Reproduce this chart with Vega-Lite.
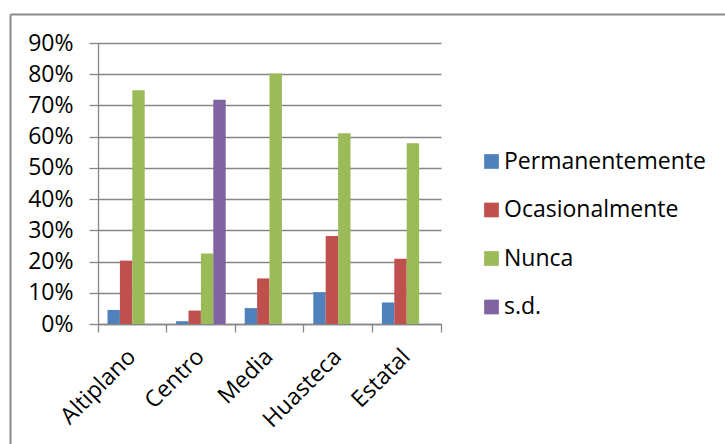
{
  "$schema": "https://vega.github.io/schema/vega-lite/v6.json",
  "width": 343,
  "height": 281,
  "autosize": {"type": "none"},
  "padding": {"left": 98, "top": 43, "right": 284, "bottom": 120},
  "background": "white",
  "config": {
    "view": {"stroke": null},
    "font": "Open Sans",
    "axis": {"labelFont": "Open Sans", "labelColor": "#000000", "title": null},
    "legend": {"labelFont": "Open Sans"}
  },
  "data": {
    "values": [
      {"region": "Altiplano", "serie": "Permanentemente", "valor": 0.045},
      {"region": "Altiplano", "serie": "Ocasionalmente", "valor": 0.203},
      {"region": "Altiplano", "serie": "Nunca", "valor": 0.749},
      {"region": "Centro", "serie": "Permanentemente", "valor": 0.009},
      {"region": "Centro", "serie": "Ocasionalmente", "valor": 0.043},
      {"region": "Centro", "serie": "Nunca", "valor": 0.226},
      {"region": "Centro", "serie": "s.d.", "valor": 0.718},
      {"region": "Media", "serie": "Permanentemente", "valor": 0.051},
      {"region": "Media", "serie": "Ocasionalmente", "valor": 0.146},
      {"region": "Media", "serie": "Nunca", "valor": 0.802},
      {"region": "Huasteca", "serie": "Permanentemente", "valor": 0.102},
      {"region": "Huasteca", "serie": "Ocasionalmente", "valor": 0.282},
      {"region": "Huasteca", "serie": "Nunca", "valor": 0.611},
      {"region": "Estatal", "serie": "Permanentemente", "valor": 0.069},
      {"region": "Estatal", "serie": "Ocasionalmente", "valor": 0.209},
      {"region": "Estatal", "serie": "Nunca", "valor": 0.579}
    ]
  },
  "layer": [
    {
      "mark": {"type": "bar"},
      "encoding": {
        "x": {
          "field": "region",
          "type": "nominal",
          "sort": ["Altiplano", "Centro", "Media", "Huasteca", "Estatal"],
          "scale": {"paddingInner": 0.277, "paddingOuter": 0.1385},
          "axis": {
            "orient": "bottom",
            "labelAngle": -45,
            "labelAlign": "right",
            "labelBaseline": "top",
            "labelFontSize": 23,
            "labelPadding": 21,
            "labelOffset": -8,
            "ticks": false,
            "tickSize": 0,
            "domainColor": "#868686",
            "domainWidth": 1.3,
            "grid": false
          }
        },
        "xOffset": {
          "field": "serie",
          "type": "nominal",
          "scale": {
            "domain": ["Permanentemente", "Ocasionalmente", "Nunca", "s.d."],
            "paddingInner": 0,
            "paddingOuter": 0
          }
        },
        "y": {
          "field": "valor",
          "type": "quantitative",
          "scale": {"domain": [0, 0.9]},
          "axis": {
            "orient": "left",
            "format": ".0%",
            "values": [0, 0.1, 0.2, 0.3, 0.4, 0.5, 0.6, 0.7, 0.8, 0.9],
            "grid": true,
            "gridColor": "#868686",
            "gridWidth": 1.3,
            "tickColor": "#868686",
            "tickWidth": 1.3,
            "tickSize": 9,
            "domainColor": "#868686",
            "domainWidth": 1.3,
            "labelFontSize": 23,
            "labelPadding": 16
          }
        },
        "color": {
          "field": "serie",
          "type": "nominal",
          "scale": {
            "domain": ["Permanentemente", "Ocasionalmente", "Nunca", "s.d."],
            "range": ["#4F81BD", "#C0504D", "#9BBB59", "#8064A2"]
          },
          "legend": {
            "title": null,
            "orient": "none",
            "legendX": 382,
            "legendY": 107,
            "symbolType": "square",
            "symbolSize": 216,
            "symbolStrokeWidth": 0,
            "labelFontSize": 23,
            "labelColor": "#000000",
            "labelOffset": 1,
            "labelLimit": 0,
            "rowPadding": 24.5
          }
        }
      }
    },
    {
      "mark": {"type": "bar", "opacity": 0},
      "encoding": {
        "x": {
          "field": "region",
          "type": "nominal",
          "sort": ["Altiplano", "Centro", "Media", "Huasteca", "Estatal"],
          "scale": {"paddingInner": 0, "paddingOuter": 0},
          "axis": {
            "orient": "bottom",
            "bandPosition": 0,
            "labels": false,
            "domain": false,
            "grid": false,
            "ticks": true,
            "tickSize": 8,
            "tickColor": "#868686",
            "tickWidth": 1.3
          }
        },
        "y": {
          "field": "valor",
          "type": "quantitative",
          "scale": {"domain": [0, 1], "range": [281, 289]},
          "axis": {
            "orient": "right",
            "labels": false,
            "ticks": false,
            "grid": false,
            "domain": true,
            "domainColor": "#868686",
            "domainWidth": 1.3
          }
        }
      }
    },
    {
      "mark": {"type": "point", "opacity": 0},
      "encoding": {
        "x": {
          "field": "valor",
          "type": "quantitative",
          "scale": {"domain": [0, 1], "range": [-88, 760]},
          "axis": {
            "orient": "top",
            "offset": 29,
            "labels": false,
            "ticks": false,
            "grid": false,
            "domain": true,
            "domainColor": "#8A8A8A",
            "domainWidth": 2
          }
        },
        "y": {
          "field": "valor",
          "type": "quantitative",
          "scale": {"domain": [0, 1], "range": [-29, 420]},
          "axis": {
            "orient": "left",
            "offset": 88,
            "labels": false,
            "ticks": false,
            "grid": false,
            "domain": true,
            "domainColor": "#8A8A8A",
            "domainWidth": 2
          }
        }
      }
    }
  ],
  "resolve": {
    "scale": {"x": "independent", "y": "independent", "color": "independent"},
    "axis": {"x": "independent", "y": "independent"}
  }
}
